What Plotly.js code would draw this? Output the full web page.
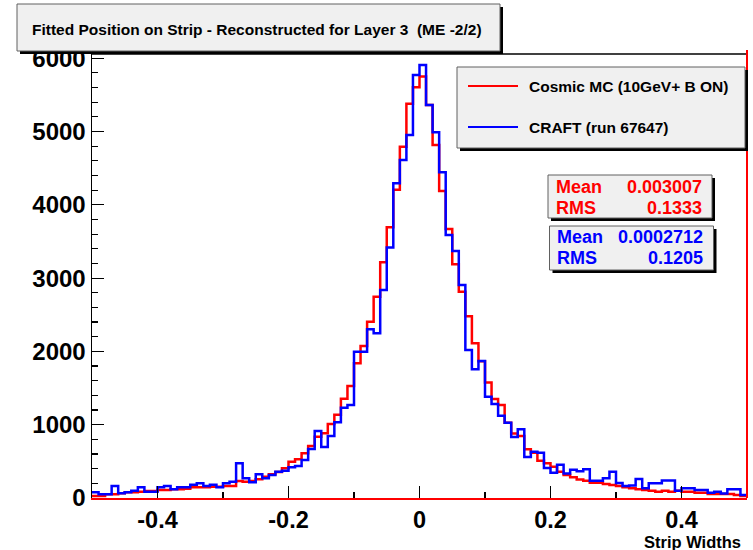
<!DOCTYPE html>
<html><head><meta charset="utf-8">
<script src="https://cdn.plot.ly/plotly-3.0.1.min.js"></script>
<style>html,body{margin:0;padding:0;background:#fff}#chart{width:753px;height:550px}</style>
</head><body><div id="chart"></div>
<script>
// ---- data ----
const seriesNames = ['Cosmic MC (10GeV+ B ON)', 'CRAFT (run 67647)'];
const binLow = -0.5, binHigh = 0.5;
const mcCounts = [
  27, 27, 50, 50, 64, 77, 77, 86, 96, 96,
  109, 109, 118, 118, 127, 146, 146, 146, 155, 155,
  164, 164, 232, 223, 232, 255, 291, 323, 355, 405,
  496, 528, 609, 710, 835, 885, 1010, 1135, 1355, 1528,
  1837, 2074, 2405, 2747, 3215, 3695, 4205, 4793, 5380, 5603,
  5750, 5362, 4816, 4188, 3670, 3188, 2815, 2480, 2110, 1865,
  1575, 1350, 1269, 1028, 880, 846, 664, 618, 509, 473,
  427, 359, 314, 282, 254, 236, 209, 209, 191, 177,
  163, 145, 132, 118, 109, 100, 86, 100, 86, 100,
  86, 86, 73, 73, 54, 54, 54, 54, 41, 27
];
const craftCounts = [
  77, 50, 50, 164, 64, 77, 100, 146, 86, 86,
  146, 164, 118, 146, 146, 182, 200, 164, 182, 146,
  200, 223, 475, 268, 214, 323, 268, 314, 359, 373,
  418, 437, 518, 670, 915, 695, 846, 1035, 1230, 1269,
  1996, 1996, 2301, 2247, 2838, 3418, 4293, 4611, 4952, 5771,
  5907, 5362, 4989, 4443, 3588, 3370, 2906, 2019, 1755, 1869,
  1382, 1282, 1123, 1028, 833, 937, 560, 632, 618, 410,
  345, 455, 335, 385, 365, 391, 234, 234, 270, 359,
  205, 163, 170, 260, 132, 200, 200, 240, 240, 98,
  132, 132, 109, 109, 73, 86, 63, 118, 118, 41
];
const xTickVals = [-0.4, -0.2, 0, 0.2, 0.4];
const xTickText = ['-0.4', '-0.2', '0', '0.2', '0.4'];
const xMinorVals = [-0.3, -0.1, 0.1, 0.3];
const yTickVals = [0, 1000, 2000, 3000, 4000, 5000, 6000];
const yTickText = ['0', '1000', '2000', '3000', '4000', '5000', '6000'];
const statLabels = ['Mean', 'RMS'];
const mcStats = ['0.003007', '0.1333'];
const craftStats = ['0.0002712', '0.1205'];
const titleText = 'Fitted Position on Strip - Reconstructed for Layer 3 \u00a0(ME -2/2)';
const xTitle = 'Strip Widths';

// ---- geometry helpers ----
const W = 753, H = 550, L = 92, R = 747, T = 54, B = 498;
const px = v => (v - L) / (R - L);
const py = v => (B - v) / (B - T);
const FONT = 'Liberation Sans, Arial, Helvetica, sans-serif';

function edges(n) {
  const e = [];
  for (let i = 0; i <= n; i++) e.push(binLow + (binHigh - binLow) * i / n);
  return e;
}
function stepY(c) { return c.concat([c[c.length - 1]]); }

const ex = edges(mcCounts.length);
const traces = [
  {x: ex, y: stepY(mcCounts), mode: 'lines', line: {shape: 'hv', color: '#ff0000', width: 2.5}, name: seriesNames[0], showlegend: false, hoverinfo: 'skip'},
  {x: ex, y: stepY(craftCounts), mode: 'lines', line: {shape: 'hv', color: '#0000ff', width: 2.5}, name: seriesNames[1], showlegend: false, hoverinfo: 'skip'}
];

function rect(x0, y0, x1, y1, fill, lineColor, lw) {
  return {type: 'rect', xref: 'paper', yref: 'paper', x0: px(x0), x1: px(x1), y0: py(y1), y1: py(y0),
    fillcolor: fill, line: {color: lineColor, width: lw}, layer: 'above'};
}
function boxWithShadow(x0, y0, x1, y1) {
  return [rect(x0 + 3, y0 + 3, x1 + 3, y1 + 3, '#000000', '#000000', 0), rect(x0, y0, x1, y1, '#f0f0f0', '#606060', 1)];
}
function hline(x0, x1, y, color, w) {
  return {type: 'line', xref: 'paper', yref: 'paper', x0: px(x0), x1: px(x1), y0: py(y), y1: py(y), line: {color: color, width: w}, layer: 'above'};
}
function ann(text, x, y, size, color, xanchor) {
  return {xref: 'paper', yref: 'paper', x: px(x), y: py(y), text: text, showarrow: false,
    xanchor: xanchor, yanchor: 'middle', borderpad: 0,
    font: {family: FONT, size: size, color: color, weight: 'bold'}};
}

const shapes = [
  hline(L, R, T, '#000000', 1.5),
  {type: 'line', xref: 'paper', yref: 'paper', x0: 1, x1: 1, y0: 0, y1: py(50), line: {color: '#ff0000', width: 2}, layer: 'above'},
  ...boxWithShadow(17, 4, 500, 51),
  ...boxWithShadow(457, 67, 745, 148),
  hline(468, 518, 86, '#ff0000', 2),
  hline(468, 518, 127, '#0000ff', 2),
  ...boxWithShadow(548, 175, 712, 218),
  ...boxWithShadow(549.5, 226, 713.5, 270)
];

const annotations = [
  ann(titleText, 257, 29, 15.5, '#000000', 'center'),
  ann(seriesNames[0], 528, 86, 15.5, '#000000', 'left'),
  ann(seriesNames[1], 528, 127, 15.5, '#000000', 'left'),
  ann(statLabels[0], 555, 187, 18, '#ff0000', 'left'),
  ann(mcStats[0], 703, 187, 18, '#ff0000', 'right'),
  ann(statLabels[1], 555, 208, 18, '#ff0000', 'left'),
  ann(mcStats[1], 703, 208, 18, '#ff0000', 'right'),
  ann(statLabels[0], 556, 237, 18, '#0000ff', 'left'),
  ann(craftStats[0], 704, 237, 18, '#0000ff', 'right'),
  ann(statLabels[1], 556, 258, 18, '#0000ff', 'left'),
  ann(craftStats[1], 704, 258, 18, '#0000ff', 'right'),
  ann(xTitle, 742, 542, 16.5, '#000000', 'right')
];

const layout = {
  width: W, height: H,
  margin: {l: L, r: W - R, t: T, b: H - B, pad: 0},
  paper_bgcolor: '#ffffff', plot_bgcolor: '#ffffff',
  showlegend: false, hovermode: false,
  xaxis: {
    range: [binLow, binHigh], showgrid: false, zeroline: false,
    showline: true, linecolor: '#ff0000', linewidth: 2,
    tickmode: 'array', tickvals: xTickVals, ticktext: xTickText,
    ticks: 'inside', ticklen: 12, tickwidth: 1.2, tickcolor: '#000000',
    minor: {tickmode: 'array', tickvals: xMinorVals, ticks: 'inside', ticklen: 6, tickwidth: 1.2, tickcolor: '#000000', showgrid: false},
    tickfont: {family: FONT, size: 23.5, color: '#000000', weight: 'bold'}
  },
  yaxis: {
    range: [0, (B - T) / 0.0733], showgrid: false, zeroline: false,
    showline: true, linecolor: '#000000', linewidth: 1.5,
    tickmode: 'array', tickvals: yTickVals, ticktext: yTickText,
    ticks: 'inside', ticklen: 12, tickwidth: 1.2, tickcolor: '#000000',
    minor: {dtick: 200, tick0: 0, ticks: 'inside', ticklen: 6, tickwidth: 1.2, tickcolor: '#000000', showgrid: false},
    tickfont: {family: FONT, size: 24, color: '#000000', weight: 'bold'}
  },
  shapes: shapes,
  annotations: annotations
};

Plotly.newPlot('chart', traces, layout, {displayModeBar: false, staticPlot: true});
</script>
</body></html>
